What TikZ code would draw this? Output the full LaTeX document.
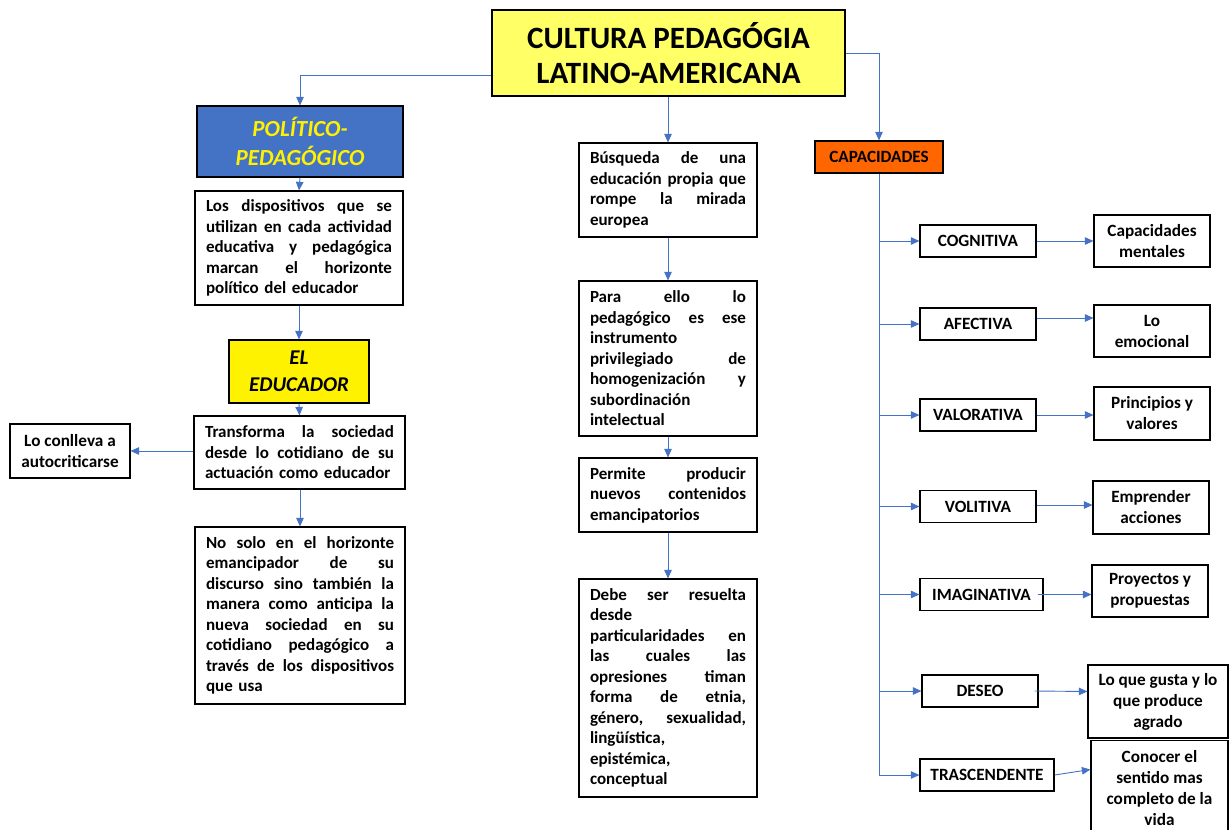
\documentclass[tikz,border=0pt]{standalone}
\usepackage{fontspec}
\setmainfont{Carlito}
\usetikzlibrary{arrows.meta}
\definecolor{ablue}{HTML}{4472C4}
\definecolor{ttl}{HTML}{FFFF66}
\definecolor{orng}{HTML}{FF6600}
\newcommand{\jl}[1]{\leavevmode{\spaceskip=0.25em plus 1fil\relax\hbox to\hsize{#1}}}
\hbadness=10000 \hfuzz=20pt
\begin{document}
\begin{tikzpicture}[x=1pt,y=-1pt,
 box/.style={draw=black, line width=1.2pt, fill=white, inner sep=0pt, font=\fontsize{17}{20.5}\selectfont\bfseries},
 jbox/.style={box, align=left, inner xsep=11pt, inner ysep=0pt},
 cbox/.style={box, align=center, font=\fontsize{17.2}{21}\selectfont\bfseries},
 sbox/.style={box, align=center, minimum height=32pt, font=\fontsize{17.2}{20}\selectfont\bfseries},
 arr/.style={draw=ablue, line width=0.9pt, -{Triangle[length=8.5pt,width=7.5pt]}},
]
\useasboundingbox[fill=white] (0,0) rectangle (1229,830);

% title
\node[box, fill=ttl, line width=1.5pt, minimum width=353pt, minimum height=86pt, align=center,
  font=\fontsize{31}{35}\selectfont\bfseries] (title) at (668.5,53) {CULTURA PEDAGÓGIA\\LATINO-AMERICANA};

% left column
\node[box, fill=ablue, text=yellow, minimum width=206pt, minimum height=71pt, align=center,
  font=\fontsize{23}{28.5}\selectfont\bfseries\itshape] (pol) at (300,141.5) {POLÍTICO-\\PEDAGÓGICO};
\node[jbox, text width=186pt, minimum height=114pt] (disp) at (299,248)
 {\jl{Los dispositivos que se}\\\jl{utilizan en cada actividad}\\\jl{educativa y pedagógica}\\\jl{marcan el horizonte}\\político del educador};
\node[box, fill=yellow, minimum width=140pt, minimum height=63pt, align=center,
  font=\fontsize{21}{27}\selectfont\bfseries\itshape] (edu) at (299,371.5) {EL\\EDUCADOR};
\node[jbox, text width=189pt, minimum height=73pt] (trans) at (299.5,452.5)
 {\jl{Transforma la sociedad}\\\jl{desde lo cotidiano de su}\\actuación como educador};
\node[cbox, minimum width=120pt, minimum height=54pt] (conl) at (70,451) {Lo conlleva a\\autocriticarse};
\node[jbox, text width=188pt, minimum height=177pt] (nosolo) at (300,615.5)
 {\jl{No solo en el horizonte}\\\jl{emancipador de su}\\\jl{discurso sino también la}\\\jl{manera como anticipa la}\\\jl{nueva sociedad en su}\\\jl{cotidiano pedagógico a}\\\jl{través de los dispositivos}\\que usa};

% middle column
\node[jbox, text width=156pt, minimum height=94pt] (bus) at (668,190)
 {\jl{Búsqueda de una}\\\jl{educación propia que}\\\jl{rompe la mirada}\\europea};
\node[jbox, text width=156pt, minimum height=155pt] (para) at (668,358.5)
 {\jl{Para ello lo}\\\jl{pedagógico es ese}\\instrumento\\\jl{privilegiado de}\\\jl{homogenización y}\\subordinación\\intelectual};
\node[jbox, text width=156pt, minimum height=74pt] (perm) at (668,495)
 {\jl{Permite producir}\\\jl{nuevos contenidos}\\emancipatorios};
\node[jbox, text width=156pt, minimum height=218pt] (debe) at (668,688)
 {\jl{Debe ser resuelta}\\desde\\\jl{particularidades en}\\\jl{las cuales las}\\\jl{opresiones timan}\\\jl{forma de etnia,}\\\jl{género, sexualidad,}\\lingüística,\\epistémica,\\conceptual};

% right column
\node[sbox, fill=orng, minimum width=128pt] (cap) at (879,157) {CAPACIDADES};
\node[sbox, minimum width=116pt] (cog) at (978,241) {COGNITIVA};
\node[sbox, minimum width=116pt] (afe) at (978,324) {AFECTIVA};
\node[sbox, minimum width=116pt] (val) at (978,415) {VALORATIVA};
\node[sbox, minimum width=116pt] (vol) at (978,506.5) {VOLITIVA};
\node[sbox, minimum width=123pt] (ima) at (981.5,594.5) {IMAGINATIVA};
\node[sbox, minimum width=116pt] (des) at (980,691) {DESEO};
\node[sbox, minimum width=134pt] (tras) at (987,775) {TRASCENDENTE};

\node[cbox, minimum width=116pt, minimum height=52pt] (capm) at (1152,241) {Capacidades\\mentales};
\node[cbox, minimum width=116pt, minimum height=52pt] (emo) at (1152,331) {Lo\\emocional};
\node[cbox, minimum width=116pt, minimum height=53pt] (prin) at (1152,413.5) {Principios y\\valores};
\node[cbox, minimum width=116pt, minimum height=53pt] (empr) at (1151,507.5) {Emprender\\acciones};
\node[cbox, minimum width=116pt, minimum height=52pt] (proy) at (1150,591) {Proyectos y\\propuestas};
\node[cbox, minimum width=140pt, minimum height=73pt] (gusta) at (1158,701.5) {Lo que gusta y lo\\que produce\\agrado};
\node[cbox, minimum width=137pt, minimum height=96pt] (conoc) at (1159.5,788.5) {Conocer el\\sentido mas\\completo de la\\vida};

% connectors
\draw[arr] ([yshift=-22pt]title.west) -| (pol.north);
\draw[arr] (title.east) -| (cap.north);
\draw[arr] (title.south -| bus.north) -- (bus.north);

\draw[arr] (pol.south) -- (disp.north);
\draw[arr] (disp.south) -- (edu.north);
\draw[arr] (edu.south) -- (trans.north);
\draw[arr] (trans.south -| nosolo.north) -- (nosolo.north);
\draw[arr] (trans.west |- conl.east) -- (conl.east);

\draw[arr] (bus.south) -- (para.north);
\draw[arr] (para.south) -- (perm.north);
\draw[arr] (perm.south) -- (debe.north);

\draw[arr] (cap.south) -- (cap.south |- tras.west) -- (tras.west);
\foreach \n in {cog,afe,val,vol,ima,des}
  \draw[arr] (cap.south |- \n.west) -- (\n.west);

\draw[arr] (cog.east) -- (cog.east -| capm.west);
\draw[arr] ([yshift=6pt]afe.east) -- ([yshift=13pt]emo.west);
\draw[arr] (val.east) -- (val.east -| prin.west);
\draw[arr] ([yshift=1.5pt]vol.east) -- ([yshift=1.5pt]vol.east -| empr.west);
\draw[arr] ([xshift=-6pt]ima.east) -- (ima.east -| proy.west);
\draw[arr] ([xshift=-4pt]des.east) -- ([yshift=10pt]gusta.west);
\draw[arr] (tras.east) -- ([yshift=19pt]conoc.west);
\end{tikzpicture}
\end{document}
